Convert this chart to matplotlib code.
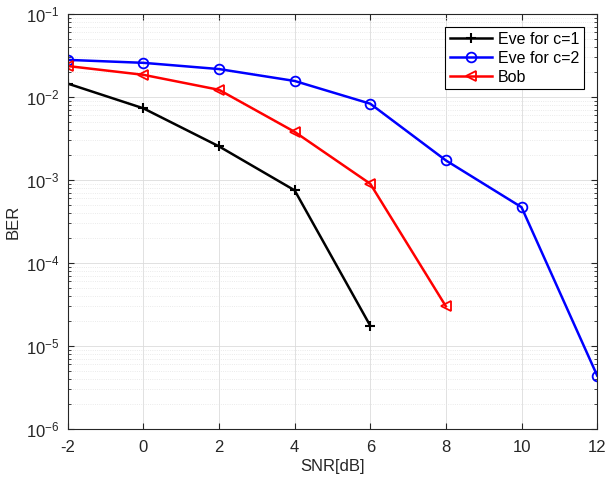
import numpy as np
import matplotlib
matplotlib.use('Agg')
import matplotlib.pyplot as plt
from matplotlib.ticker import LogLocator, NullFormatter

plt.rcParams['font.family'] = ['Liberation Sans', 'DejaVu Sans']

snr_eve1 = [-2, 0, 2, 4, 6]
ber_eve1 = [0.0145, 0.0073, 0.00254, 7.5e-4, 1.75e-5]

snr_eve2 = [-2, 0, 2, 4, 6, 8, 10, 12]
ber_eve2 = [0.028, 0.0258, 0.0217, 0.0156, 0.0083, 0.00172, 4.7e-4, 4.4e-6]

snr_bob = [-2, 0, 2, 4, 6, 8]
ber_bob = [0.0236, 0.0185, 0.0122, 0.0038, 9.0e-4, 3.0e-5]

xticks = [-2, 0, 2, 4, 6, 8, 10, 12]

fig = plt.figure(figsize=(6.05, 4.83), dpi=100)
ax = fig.add_axes([0.112, 0.112, 0.875, 0.859])

ax.semilogy(snr_eve1, ber_eve1, color='black', marker='+', markersize=7,
            markeredgewidth=1.5, linewidth=1.8, label='Eve for c=1')
ax.semilogy(snr_eve2, ber_eve2, color='blue', marker='o', markersize=7,
            markerfacecolor='none', markeredgewidth=1.3, linewidth=1.8,
            label='Eve for c=2')
ax.semilogy(snr_bob, ber_bob, color='red', marker='<', markersize=7,
            markerfacecolor='none', markeredgewidth=1.3, linewidth=1.8,
            label='Bob')

ax.set_xlim(-2, 12)
ax.set_ylim(1e-6, 1e-1)
ax.set_xticks(xticks)
ax.set_xticklabels([str(t) for t in xticks])
ax.yaxis.set_major_locator(LogLocator(base=10, numticks=10))
ax.yaxis.set_minor_locator(LogLocator(base=10, subs=np.arange(2, 10), numticks=10))
ax.yaxis.set_minor_formatter(NullFormatter())

ax.grid(True, which='major', color='#dcdcdc', linewidth=0.6)
ax.grid(True, which='minor', axis='y', color='#e4e4e4', linestyle=':', linewidth=0.6)
ax.tick_params(which='both', direction='in', top=True, right=True,
               labelsize=12, colors='#262626')
ax.tick_params(which='major', length=4, pad=6)
ax.tick_params(axis='x', which='major', pad=8)
ax.tick_params(which='minor', length=2)
for s in ax.spines.values():
    s.set_color('#262626')
    s.set_linewidth(0.8)

ax.set_xlabel('SNR[dB]', fontsize=12, color='#262626', labelpad=3)
ax.set_ylabel('BER', fontsize=12, color='#262626')

leg = ax.legend(loc='upper right', fontsize=11.5, fancybox=False, framealpha=1,
                edgecolor='black', borderaxespad=0.8, handlelength=2.6,
                borderpad=0.3, labelspacing=0.25, handletextpad=0.4)
leg.get_frame().set_linewidth(0.8)

fig.savefig('out.png', dpi=100)
